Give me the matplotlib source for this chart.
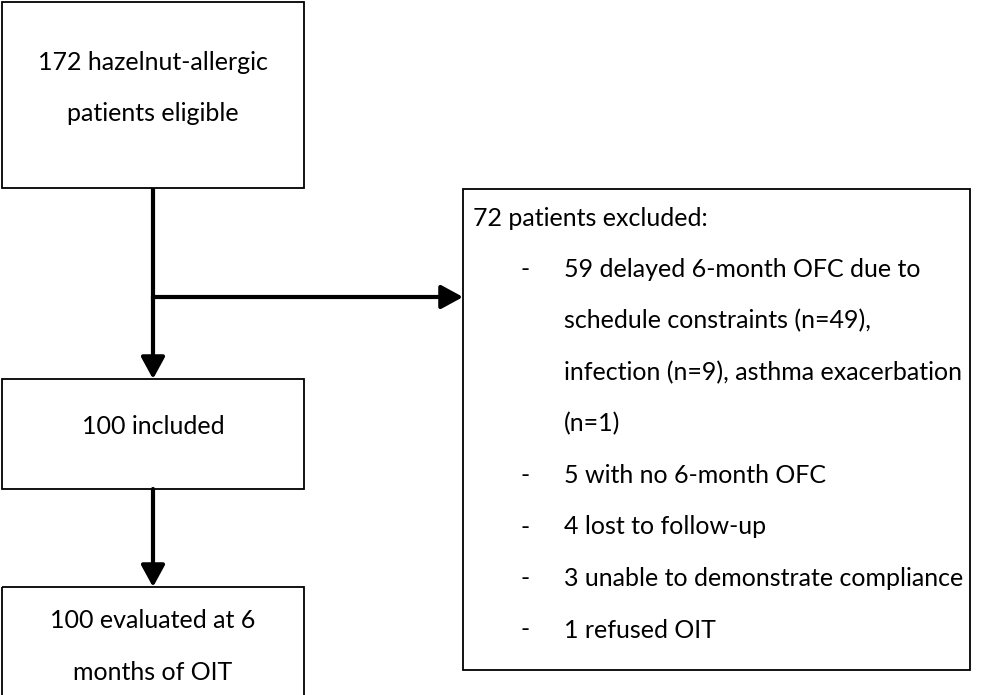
import matplotlib.pyplot as plt
from matplotlib.patches import Rectangle, FancyArrowPatch

plt.rcParams['font.family'] = ['Lato', 'DejaVu Sans']

# flowchart contents
top_text = ["172 hazelnut-allergic", "patients eligible"]
mid_text = ["100 included"]
bottom_text = ["100 evaluated at 6", "months of OIT"]
excl_title = "72 patients excluded:"
excl_items = [
    ["59 delayed 6-month OFC due to", "schedule constraints (n=49),",
     "infection (n=9), asthma exacerbation", "(n=1)"],
    ["5 with no 6-month OFC"],
    ["4 lost to follow-up"],
    ["3 unable to demonstrate compliance"],
    ["1 refused OIT"],
]

W, H = 1003, 695
fig = plt.figure(figsize=(W / 100, H / 100), dpi=100)
ax = fig.add_axes([0, 0, 1, 1])
ax.set_xlim(0, W)
ax.set_ylim(H, 0)
ax.axis('off')

FS = 18
LINE = 51.5


def box(x0, y0, x1, y1):
    ax.add_patch(Rectangle((x0, y0), x1 - x0, y1 - y0, fill=False,
                           edgecolor='black', lw=1.3))


def arrow(p0, p1):
    ax.add_patch(FancyArrowPatch(p0, p1, arrowstyle='-|>,head_length=1.1,head_width=0.6',
                                 mutation_scale=12, lw=3, color='black',
                                 shrinkA=0, shrinkB=0))


# left column boxes
box(2, 2, 304, 188)
box(2, 379, 304, 489)
box(2, 587, 304, 720)
# exclusion box
box(463, 189, 970, 670)

cx = 153
for i, t in enumerate(top_text):
    ax.text(cx, 62 + i * LINE, t, fontsize=FS, ha='center', va='center')
for i, t in enumerate(mid_text):
    ax.text(cx, 426 + i * LINE, t, fontsize=FS, ha='center', va='center')
for i, t in enumerate(bottom_text):
    ax.text(cx, 621 + i * LINE, t, fontsize=FS, ha='center', va='center')

# arrows
ax.plot([cx, cx], [188, 300], color='black', lw=3, solid_capstyle='butt')
arrow((cx, 296), (cx, 379))
arrow((cx, 297), (463, 297))
arrow((cx, 489), (cx, 587))

# exclusion text
y = 218
ax.text(473, y, excl_title, fontsize=FS, ha='left', va='center')
for item in excl_items:
    for j, line in enumerate(item):
        y += LINE
        if j == 0:
            ax.text(521, y, "-", fontsize=FS, ha='left', va='center')
        ax.text(564, y, line, fontsize=FS, ha='left', va='center')

fig.savefig('out.png', dpi=100)
